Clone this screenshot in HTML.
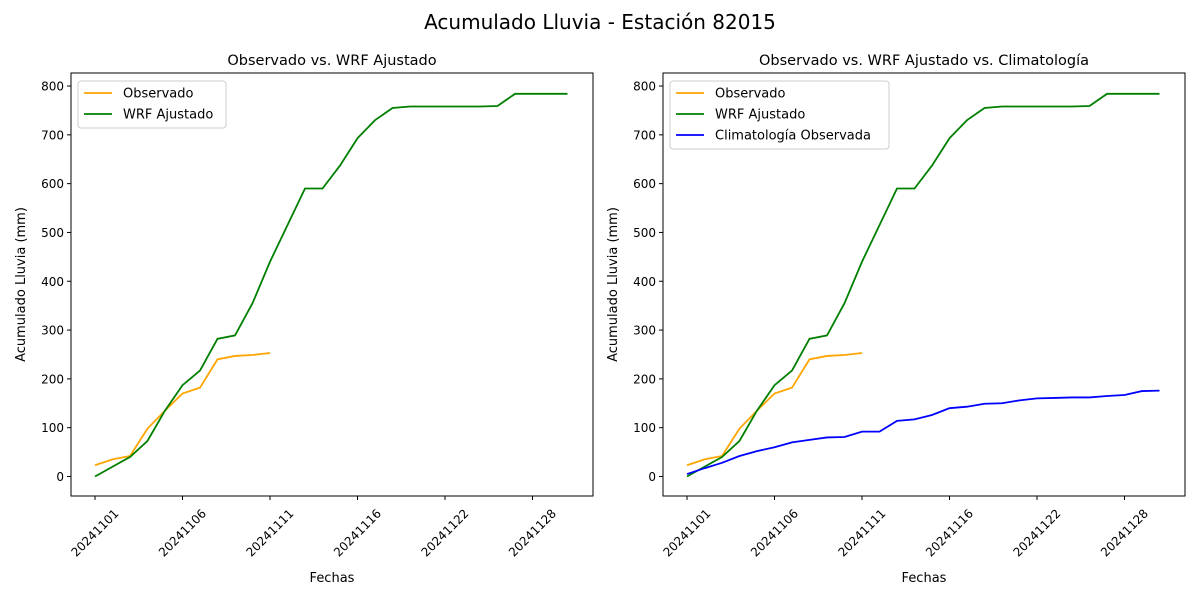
<!DOCTYPE html>
<html><head><meta charset="utf-8"><style>
body{margin:0;background:#fff;font-family:"Liberation Sans","DejaVu Sans",sans-serif}
svg text{font-family:"DejaVu Sans","Liberation Sans",sans-serif}
</style></head><body>
<svg id="c" width="1200" height="600" xmlns="http://www.w3.org/2000/svg">
<text x="600" y="29" font-size="20" text-anchor="middle">Acumulado Lluvia - Estación 82015</text>
</svg>
<script>
const dates=["20241101","20241102","20241103","20241104","20241105","20241106","20241107","20241108","20241109","20241110","20241111","20241112","20241113","20241114","20241115","20241116","20241117","20241119","20241120","20241121","20241122","20241123","20241125","20241126","20241127","20241128","20241129","20241130"];
const observado=[23,35,42,98,135,170,182,240,247,249,253];
const wrf=[0,20,40,73,135,187,217,282,289,355,440,515,590,590,637,693,730,755,758,758,758,758,758,759,784,784,784,784];
const clim=[5,17,28,42,52,60,70,75,80,81,92,92,114,117,126,140,143,149,150,156,160,161,162,162,165,167,175,176];
const yTicks=[0,100,200,300,400,500,600,700,800];
const svg=document.getElementById('c');const NS="http://www.w3.org/2000/svg";
function el(t,a,p){const e=document.createElementNS(NS,t);for(const k in a)e.setAttribute(k,a[k]);(p||svg).appendChild(e);return e;}
function panel(ox,title,withClim,id){
 const L=ox,R=ox+522,T=73,B=496;
 const xs=i=>ox+24+i*17.5, ys=v=>476.5-v*0.4881;
 const g=el('g',{});
 
 
 const t=el('text',{x:(L+R)/2,y:65,'font-size':14.5,'text-anchor':'middle'},g);t.textContent=title;
 
 
 yTicks.forEach(v=>{const y=ys(v);el('line',{x1:L-4,x2:L,y1:y,y2:y,stroke:'#000'},g);
  const tx=el('text',{x:L-7,y:y+4.5,'font-size':12,'text-anchor':'end'},g);tx.textContent=v;
  
  });
 dates.forEach((d,i)=>{if(i%5)return;const x=xs(i);el('line',{x1:x,x2:x,y1:B,y2:B+4,stroke:'#000'},g);
  const cy=B+37;
  const tx=el('text',{x:x,y:cy+4,'font-size':12,'text-anchor':'middle',transform:`rotate(-45 ${x} ${cy})`},g);tx.textContent=d;
  
  });
 const xl=el('text',{x:(L+R)/2,y:582,'font-size':13,'text-anchor':'middle'},g);xl.textContent='Fechas';
 
 
 const yl=el('text',{x:L-46,y:(T+B)/2,'font-size':13,'text-anchor':'middle',transform:`rotate(-90 ${L-46} ${(T+B)/2})`},g);yl.textContent='Acumulado Lluvia (mm)';
 
 
 const line=(arr,c,n)=>{const p=el('polyline',{points:arr.map((v,i)=>xs(i)+','+ys(v)).join(' '),fill:'none',stroke:c,'stroke-width':1.8},g);
  
  };
 line(observado,'orange','observado-line');line(wrf,'green','wrf-line');
 if(withClim)line(clim,'blue','climatologia-line');
 el('rect',{x:L,y:T,width:R-L,height:B-T,fill:'none',stroke:'#000','stroke-width':1},g);
 const items=[['Observado','orange'],['WRF Ajustado','green']];if(withClim)items.push(['Climatología Observada','blue']);
 const lw=withClim?219:148;
 const lg=el('g',{},g);
 
 
 el('rect',{x:L+7,y:T+8,width:lw,height:items.length*21+5,fill:'#fff',stroke:'#ccc',rx:3},lg);
 items.forEach((it,k)=>{const y=T+20+k*21;el('line',{x1:L+13,x2:L+41,y1:y,y2:y,stroke:it[1],'stroke-width':1.8},lg);
  const tx=el('text',{x:L+52,y:y+4.5,'font-size':13},lg);tx.textContent=it[0];
  
  });
}
panel(71,'Observado vs. WRF Ajustado',false,'left-panel');
panel(663,'Observado vs. WRF Ajustado vs. Climatología',true,'right-panel');
</script>
</body></html>
